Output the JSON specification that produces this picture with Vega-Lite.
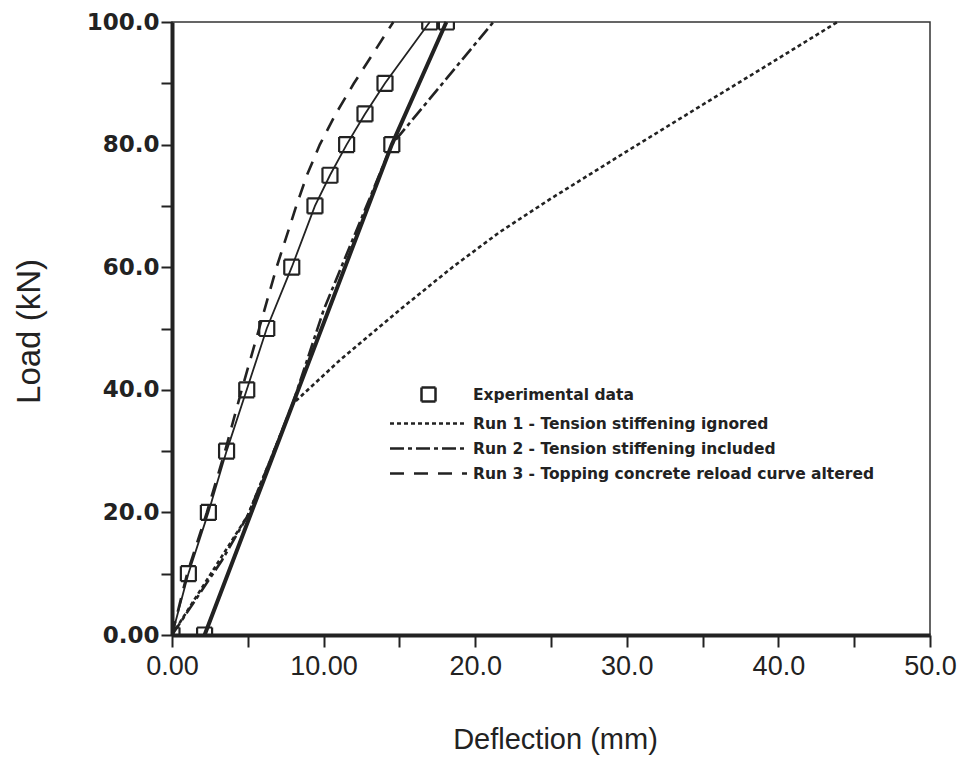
{
  "$schema": "https://vega.github.io/schema/vega-lite/v6.json",
  "width": 758,
  "height": 613,
  "autosize": {"type": "none"},
  "padding": {"left": 172, "top": 22, "right": 27, "bottom": 122},
  "background": "white",
  "config": {
    "view": {"stroke": "#333", "strokeWidth": 1.5},
    "axis": {"grid": false, "domainColor": "#222", "tickColor": "#222", "labelColor": "#222", "titleColor": "#222", "zindex": 1}
  },
  "datasets": {
    "expt": [
      {"set": "A", "x": 0, "y": 0},
      {"set": "A", "x": 1.08, "y": 10},
      {"set": "A", "x": 2.4, "y": 20},
      {"set": "A", "x": 3.6, "y": 30},
      {"set": "A", "x": 4.93, "y": 40},
      {"set": "A", "x": 6.25, "y": 50},
      {"set": "A", "x": 7.9, "y": 60},
      {"set": "A", "x": 9.43, "y": 70},
      {"set": "A", "x": 10.42, "y": 75},
      {"set": "A", "x": 11.52, "y": 80},
      {"set": "A", "x": 12.73, "y": 85},
      {"set": "A", "x": 14.05, "y": 90},
      {"set": "A", "x": 17.0, "y": 100},
      {"set": "B", "x": 2.15, "y": 0},
      {"set": "B", "x": 14.5, "y": 80},
      {"set": "B", "x": 18.1, "y": 100}
    ],
    "runs": [
      {"series": "Run 1 - Tension stiffening ignored", "x": 0, "y": 0},
      {"series": "Run 1 - Tension stiffening ignored", "x": 5.0, "y": 19.5},
      {"series": "Run 1 - Tension stiffening ignored", "x": 8.0, "y": 37.8},
      {"series": "Run 1 - Tension stiffening ignored", "x": 11.1, "y": 44.9},
      {"series": "Run 1 - Tension stiffening ignored", "x": 15.0, "y": 53},
      {"series": "Run 1 - Tension stiffening ignored", "x": 18.5, "y": 60},
      {"series": "Run 1 - Tension stiffening ignored", "x": 21.6, "y": 65.7},
      {"series": "Run 1 - Tension stiffening ignored", "x": 25.0, "y": 71.2},
      {"series": "Run 1 - Tension stiffening ignored", "x": 30.0, "y": 78.9},
      {"series": "Run 1 - Tension stiffening ignored", "x": 35.0, "y": 86.5},
      {"series": "Run 1 - Tension stiffening ignored", "x": 39.5, "y": 93.3},
      {"series": "Run 1 - Tension stiffening ignored", "x": 43.9, "y": 100},
      {"series": "Run 2 - Tension stiffening included", "x": 0, "y": 0},
      {"series": "Run 2 - Tension stiffening included", "x": 3.3, "y": 12.2},
      {"series": "Run 2 - Tension stiffening included", "x": 5.0, "y": 19.5},
      {"series": "Run 2 - Tension stiffening included", "x": 6.4, "y": 28},
      {"series": "Run 2 - Tension stiffening included", "x": 8.0, "y": 38},
      {"series": "Run 2 - Tension stiffening included", "x": 10.0, "y": 53},
      {"series": "Run 2 - Tension stiffening included", "x": 12.5, "y": 68},
      {"series": "Run 2 - Tension stiffening included", "x": 14.5, "y": 80},
      {"series": "Run 2 - Tension stiffening included", "x": 21.2, "y": 100},
      {"series": "Run 3 - Topping concrete reload curve altered", "x": 0, "y": 0},
      {"series": "Run 3 - Topping concrete reload curve altered", "x": 1.0, "y": 10},
      {"series": "Run 3 - Topping concrete reload curve altered", "x": 2.3, "y": 20},
      {"series": "Run 3 - Topping concrete reload curve altered", "x": 3.5, "y": 30},
      {"series": "Run 3 - Topping concrete reload curve altered", "x": 4.6, "y": 40},
      {"series": "Run 3 - Topping concrete reload curve altered", "x": 5.75, "y": 50},
      {"series": "Run 3 - Topping concrete reload curve altered", "x": 6.9, "y": 60},
      {"series": "Run 3 - Topping concrete reload curve altered", "x": 8.2, "y": 70},
      {"series": "Run 3 - Topping concrete reload curve altered", "x": 8.9, "y": 75},
      {"series": "Run 3 - Topping concrete reload curve altered", "x": 9.75, "y": 80},
      {"series": "Run 3 - Topping concrete reload curve altered", "x": 10.8, "y": 85},
      {"series": "Run 3 - Topping concrete reload curve altered", "x": 12.0, "y": 90},
      {"series": "Run 3 - Topping concrete reload curve altered", "x": 13.3, "y": 95},
      {"series": "Run 3 - Topping concrete reload curve altered", "x": 14.6, "y": 100}
    ]
  },
  "encoding": {
    "x": {
      "field": "x", "type": "quantitative",
      "scale": {"domain": [0, 50], "nice": false, "zero": false},
      "axis": {
        "title": "Deflection (mm)",
        "values": [0, 5, 10, 15, 20, 25, 30, 35, 40, 45, 50],
        "labelExpr": "datum.value % 10 != 0 ? '' : (datum.value < 15 ? format(datum.value, '.2f') : format(datum.value, '.1f'))",
        "labelFont": "Liberation Sans",
        "labelFontSize": 27,
        "labelFlush": false,
        "labelOverlap": false,
        "labelPadding": 6,
        "domainWidth": 4,
        "tickWidth": 2,
        "tickSize": 12,
        "titleFont": "Liberation Sans",
        "titleFontSize": 29,
        "titleFontWeight": "normal",
        "titleAnchor": "middle",
        "titleX": 383,
        "titleY": 113,
        "titleBaseline": "alphabetic"
      }
    },
    "y": {
      "field": "y", "type": "quantitative",
      "scale": {"domain": [0, 100], "nice": false, "zero": false},
      "axis": {
        "title": "Load (kN)",
        "values": [0, 10, 20, 30, 40, 50, 60, 70, 80, 90, 100],
        "labelExpr": "datum.value % 20 != 0 ? '' : (datum.value == 0 ? '0.00' : format(datum.value, '.1f'))",
        "labelFont": "DejaVu Sans",
        "labelFontWeight": "bold",
        "labelFontSize": 23,
        "labelFlush": false,
        "labelOverlap": false,
        "labelPadding": 2,
        "labelBaseline": "middle",
        "domainWidth": 4,
        "tickWidth": 2,
        "tickSize": 11,
        "titleFont": "Liberation Sans",
        "titleFontSize": 33,
        "titleFontWeight": "normal",
        "titleAngle": -90,
        "titleAnchor": "middle",
        "titleX": -133,
        "titleY": 309,
        "titleBaseline": "alphabetic"
      }
    }
  },
  "layer": [
    {
      "data": {"name": "expt"},
      "transform": [{"filter": "datum.set == 'A'"}],
      "mark": {"type": "line", "color": "#222", "strokeWidth": 1.8},
      "encoding": {"order": {"field": "y", "type": "quantitative"}}
    },
    {
      "data": {"name": "expt"},
      "transform": [{"filter": "datum.set == 'B'"}],
      "mark": {"type": "line", "color": "#222", "strokeWidth": 4},
      "encoding": {"order": {"field": "y", "type": "quantitative"}}
    },
    {
      "data": {"name": "runs"},
      "mark": {"type": "line", "color": "#222", "strokeWidth": 2.6},
      "encoding": {
        "order": {"field": "y", "type": "quantitative"},
        "strokeDash": {
          "field": "series", "type": "nominal",
          "scale": {
            "domain": ["Experimental data", "Run 1 - Tension stiffening ignored", "Run 2 - Tension stiffening included", "Run 3 - Topping concrete reload curve altered"],
            "range": [[1, 0], [4, 3], [14, 4, 4, 4], [14, 10]]
          },
          "legend": {
            "title": null,
            "orient": "none",
            "legendX": 245,
            "legendY": 361,
            "padding": 0,
            "rowPadding": 5,
            "symbolSize": 400,
            "symbolStrokeWidth": 2.5,
            "symbolStrokeColor": "#222",
            "symbolFillColor": "transparent",
            "labelFont": "DejaVu Sans",
            "labelFontWeight": "bold",
            "labelFontSize": 15.5,
            "labelColor": "#222",
            "labelOffset": 33,
            "labelLimit": 600,
            "encode": {
              "symbols": {
                "update": {
                  "shape": {"signal": "datum.value == 'Experimental data' ? 'M-0.7,-0.7H0.7V0.7H-0.7Z' : 'M-3.85,0H3.85'"},
                  "fill": {"value": "transparent"},
                  "stroke": {"value": "#222"}
                }
              }
            }
          }
        }
      }
    },
    {
      "data": {"name": "expt"},
      "transform": [{"calculate": "'Experimental data'", "as": "series"}],
      "mark": {"type": "point", "shape": "square", "filled": false, "size": 225, "strokeWidth": 2.2, "color": "#222", "opacity": 1, "clip": true},
      "encoding": {
        "strokeDash": {"field": "series", "type": "nominal"}
      }
    }
  ]
}
